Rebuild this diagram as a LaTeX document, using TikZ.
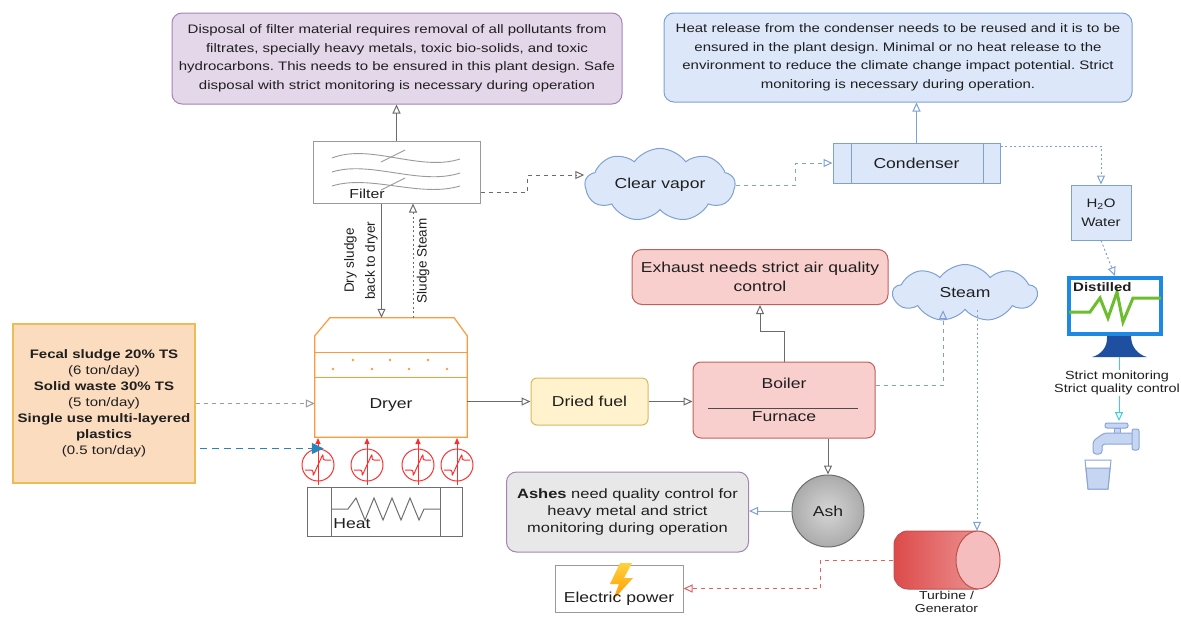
\documentclass[tikz,border=0pt]{standalone}
\usepackage{fontspec}
\setmainfont{Liberation Sans}[FakeStretch=1.22]
\newfontfamily\plainsans{Liberation Sans}
\usetikzlibrary{arrows.meta,positioning,calc,shapes.geometric,shapes.symbols}
\definecolor{Ink}{HTML}{1F1F1F}
\definecolor{Slate}{HTML}{6B6B6B}
\definecolor{FrameGrey}{HTML}{9A9A9A}
\definecolor{FrameDark}{HTML}{6E6E6E}
\definecolor{PurpleFill}{HTML}{E4D7EA}
\definecolor{PurpleEdge}{HTML}{A384B5}
\definecolor{BlueFill}{HTML}{DCE8FA}
\definecolor{BlueEdge}{HTML}{7EA0D4}
\definecolor{RedFill}{HTML}{F8CFCD}
\definecolor{RedEdge}{HTML}{C0605C}
\definecolor{YellowFill}{HTML}{FFF2CC}
\definecolor{YellowEdge}{HTML}{D9B85C}
\definecolor{InputFill}{HTML}{FCDCBE}
\definecolor{InputEdge}{HTML}{ECBD55}
\definecolor{DryerOrange}{HTML}{FF9A3C}
\definecolor{HeatRed}{HTML}{FF2E2E}
\definecolor{FeedBlue}{HTML}{2786B9}
\definecolor{AshLight}{HTML}{D6D6D6}
\definecolor{AshGrey}{HTML}{ABABAB}
\definecolor{AshNote}{HTML}{E8E8E8}
\definecolor{TurbineDark}{HTML}{DD4B4B}
\definecolor{TurbineBody}{HTML}{F0A0A0}
\definecolor{TurbineEnd}{HTML}{F5BDBD}
\definecolor{TurbineEdge}{HTML}{C0504D}
\definecolor{PowerRed}{HTML}{E06060}
\definecolor{MonitorBlue}{HTML}{1E88E5}
\definecolor{StandBlue}{HTML}{1F4FA0}
\definecolor{ZigGreen}{HTML}{6DBE2E}
\definecolor{CyanLine}{HTML}{3CCFD8}
\definecolor{TapFill}{HTML}{C6D5F2}
\definecolor{TapEdge}{HTML}{8CA5D8}
\definecolor{BoltTop}{HTML}{FFD23F}
\definecolor{BoltBottom}{HTML}{FF9800}
\newcommand\notefont{\fontsize{12.3}{18.5}\selectfont}
\newcommand\feedfont{\fontsize{12.3}{16}\selectfont}
\newcommand\unitfont{\fontsize{14.4}{19}\selectfont}
\newcommand\tagfont{\fontsize{12.3}{14}\selectfont}
\newcommand\sidefont{\plainsans\fontsize{13.5}{21}\selectfont}
\frenchspacing
\tikzset{
  notebox/.style={rounded corners=10pt, line width=1pt, align=center, font=\notefont, text=Ink, inner sep=4pt},
  unitbox/.style={line width=1pt, align=center, font=\unitfont, text=Ink, inner sep=3pt},
  vapour/.style={cloud, cloud puffs=9, cloud puff arc=110, aspect=2.4, draw=BlueEdge, fill=BlueFill, line width=1pt, font=\unitfont, text=Ink, inner sep=0pt},
  arrow/.style={-{Triangle[open,length=9pt,width=8pt]}, line width=1pt, draw=Slate},
  dashedarrow/.style={arrow, dash pattern=on 4pt off 4pt},
  dottedarrow/.style={arrow, dash pattern=on 2pt off 2.5pt},
  heatline/.style={HeatRed, line width=1pt},
  tapicon/.style={fill=TapFill, draw=TapEdge, line width=1pt}
}
\begin{document}
\begin{tikzpicture}[x=1pt,y=-1pt]
  \useasboundingbox (0,0) rectangle (1181,616);

  % requirement notes
  \node[notebox, draw=PurpleEdge, fill=PurpleFill, minimum width=450pt, minimum height=91pt] (disposal) at (397,58.5) {Disposal of filter material requires removal of all pollutants from\\filtrates, specially heavy metals, toxic bio-solids, and toxic\\hydrocarbons. This needs to be ensured in this plant design. Safe\\disposal with strict monitoring is necessary during operation};
  \node[notebox, draw=BlueEdge, fill=BlueFill, minimum width=468pt, minimum height=89pt] (heatnote) at (898,57.5) {Heat release from the condenser needs to be reused and it is to be\\ensured in the plant design. Minimal or no heat release to the\\environment to reduce the climate change impact potential. Strict\\monitoring is necessary during operation.};
  \node[notebox, font=\unitfont, draw=RedEdge, fill=RedFill, minimum width=256pt, minimum height=55pt] (exhaust) at (760,277) {Exhaust needs strict air quality\\control};
  \node[notebox, font=\fontsize{13.5}{17}\selectfont, draw=PurpleEdge, fill=AshNote, minimum width=242pt, minimum height=80pt] (ashnote) at (627.5,512) {\textbf{Ashes} need quality control for\\heavy metal and strict\\monitoring during operation};

  % filter
  \node[unitbox, draw=FrameGrey, fill=white, minimum width=167pt, minimum height=62pt] (filter) at (396.5,172) {};
  \draw[FrameGrey, line width=0.9pt] (332,158) .. controls (370,143) and (420,172) .. (460,159);
  \draw[FrameGrey, line width=0.9pt] (332,172) .. controls (370,160) and (420,186) .. (460,173);
  \draw[FrameGrey, line width=0.9pt] (332,186) .. controls (370,174) and (420,198) .. (460,186);
  \draw[FrameGrey, line width=0.9pt] (381,162) -- (405,150) (381,190) -- (405,178);
  \node[font=\fontsize{13}{15}\selectfont, text=Ink] (filtertext) at (367,194) {Filter};

  % vapour line
  \node[vapour, minimum width=150pt, minimum height=64pt] (vapor) at (660,185) {Clear vapor};
  \node[unitbox, draw=BlueEdge, fill=BlueFill, minimum width=167pt, minimum height=40pt] (condenser) at (916.5,163) {Condenser};
  \draw[BlueEdge, line width=1pt] (851,143) -- (851,183) (983,143) -- (983,183);
  \node[unitbox, font=\tagfont, draw=BlueEdge, fill=BlueFill, minimum width=60pt, minimum height=55pt] (water) at (1101,212.5) {H\textsubscript{2}O\\[5pt]Water};

  % distilled water display
  \node[draw=MonitorBlue, line width=4pt, fill=white, minimum width=92pt, minimum height=56pt, inner sep=0pt] (monitor) at (1115,306) {};
  \fill[StandBlue] (1107,336) .. controls (1108,348) and (1100,355) .. (1092,357) -- (1147,357) .. controls (1139,355) and (1131,348) .. (1131,336) -- cycle;
  \draw[ZigGreen, line width=3pt] (1069,312) -- (1090,312) -- (1100,298) -- (1108,318) -- (1117,292) -- (1123,322) -- (1133,298) -- (1161,298);
  \node[font=\tagfont\bfseries, text=Ink, anchor=west, inner sep=0pt] (distilled) at (1073,287) {Distilled};
  \coordinate (standbase) at (1119,357);
  \coordinate (tap) at (1119,421);
  \draw[arrow, draw=CyanLine] (standbase) -- (tap);
  \node[font=\fontsize{11.8}{13.5}\selectfont, text=Ink, fill=white, align=center, inner sep=1pt] (strict) at (1117,383) {Strict monitoring\\Strict quality control};

  % tap and glass
  \filldraw[tapicon, rounded corners=2pt] (1105,423) rectangle (1128,428);
  \filldraw[tapicon] (1114,428) rectangle (1120,434);
  \filldraw[tapicon, rounded corners=3pt] (1134,433) -- (1104,433) -- (1093,441) -- (1093,454) -- (1102,454) -- (1102,444) -- (1134,444) -- cycle;
  \filldraw[tapicon, rounded corners=2pt] (1132,429) rectangle (1139,450);
  \filldraw[tapicon, fill=white] (1085,460) -- (1111,460) -- (1108,489) -- (1088,489) -- cycle;
  \filldraw[tapicon] (1086,468) -- (1110,468) -- (1108,489) -- (1088,489) -- cycle;

  % feed
  \node[unitbox, font=\feedfont, draw=InputEdge, line width=1.5pt, fill=InputFill, minimum width=182pt, minimum height=159pt] (input) at (104,403.5) {\textbf{Fecal sludge 20\% TS}\\(6 ton/day)\\\textbf{Solid waste 30\% TS}\\(5 ton/day)\\\textbf{Single use multi-layered}\\\textbf{plastics}\\(0.5 ton/day)};

  % dryer
  \node[minimum width=152pt, minimum height=119pt, inner sep=0pt] (dryer) at (391,377.5) {};
  \draw[DryerOrange, line width=1.2pt, fill=white] (dryer.south west) -- ([yshift=-18pt]dryer.north west) -- ([xshift=15pt]dryer.north west) -- ([xshift=-13pt]dryer.north east) -- ([yshift=-18pt]dryer.north east) -- (dryer.south east) -- cycle;
  \draw[DryerOrange, line width=1pt] (315,352) -- (467,352) (315,377) -- (467,377);
  \foreach \dx/\dy in {353/360,390/360,428/360,333/369,372/369,409/369,447/369}
    \fill[DryerOrange] (\dx,\dy) circle (1.3pt);
  \node[font=\unitfont, text=Ink] (dryertext) at (391,405) {Dryer};

  % heater
  \node[draw=FrameDark, line width=1pt, minimum width=155pt, minimum height=49pt] (heater) at (385,511.5) {};
  \draw[FrameDark, line width=1pt] (331,487) -- (331,536) (440,487) -- (440,536);
  \draw[FrameDark, line width=1pt] (331,509) -- (348,509) -- (356,498) -- (365,520) -- (374,498) -- (383,520) -- (392,498) -- (401,520) -- (410,498) -- (419,520) -- (424,509) -- (440,509);
  \node[font=\unitfont, text=Ink, inner sep=0pt] (heattext) at (352,524) {Heat};
  \foreach \hx in {318,367,418,457}{
    \draw[heatline] (\hx,465) circle (16pt);
    \draw[heatline, rounded corners=2pt] (\hx-13,470) -- (\hx-5,470) -- (\hx-5,476) -- (\hx+5,454) -- (\hx+5,460) -- (\hx+13,460);
    \draw[heatline, -{Triangle[length=6pt,width=5pt]}] (\hx,485) -- (\hx,438);
  }

  % fuel line
  \node[notebox, font=\unitfont, rounded corners=6pt, draw=YellowEdge, fill=YellowFill, minimum width=117pt, minimum height=47pt] (fuel) at (589.5,401.5) {Dried fuel};
  \node[notebox, font=\unitfont, rounded corners=8pt, draw=RedEdge, fill=RedFill, minimum width=182pt, minimum height=76pt] (boiler) at (784,400) {Boiler\\[14pt]Furnace};
  \draw[Ink!80, line width=1pt] (708,408) -- (858,408);
  \node[vapour, minimum width=144pt, minimum height=57pt] (steam) at (965,293) {Steam};
  \node[circle, draw=FrameDark, line width=1pt, inner color=AshLight, outer color=AshGrey, minimum size=72pt, font=\unitfont, text=Ink] (ash) at (828,511) {Ash};

  % turbine and generator
  \node[minimum width=107pt, minimum height=58pt, inner sep=0pt] (turbine) at (946.5,560) {};
  \shade[left color=TurbineDark, right color=TurbineBody] (978,531) [rounded corners=14pt] -- (894,531) -- (894,589) [sharp corners] -- (978,589) arc[start angle=-90, end angle=90, x radius=22pt, y radius=29pt] -- cycle;
  \draw[TurbineEdge, line width=1pt] (978,531) [rounded corners=14pt] -- (894,531) -- (894,589) [sharp corners] -- (978,589);
  \draw[TurbineEdge, line width=1pt, fill=TurbineEnd] (978,560) ellipse [x radius=22pt, y radius=29pt];
  \node[font=\fontsize{11.5}{12.5}\selectfont, text=Ink, align=center, inner sep=1pt, below=1pt of turbine] (turbinetext) {Turbine /\\Generator};

  \node[draw=FrameGrey, line width=1pt, fill=white, minimum width=128pt, minimum height=47pt] (elec) at (619,588.5) {};
  \shade[top color=BoltTop, bottom color=BoltBottom] (620,563) -- (632,563) -- (624,578) -- (633,578) -- (613,600) -- (619,584) -- (610,584) -- cycle;
  \node[font=\unitfont, text=Ink] (electext) at (619,599) {Electric power};

  % connectors
  \draw[arrow] (filter.north) -- (filter.north |- disposal.south);
  \draw[dashedarrow] ([yshift=-20pt]filter.east) -- ++(47,0) |- ([yshift=10pt]vapor.west);
  \draw[dashedarrow, draw=BlueEdge] (vapor.east) -- ++(60,0) |- (condenser.west);
  \draw[arrow, draw=BlueEdge] (condenser.north) -- (condenser.north |- heatnote.south);
  \draw[dottedarrow, draw=BlueEdge] ([yshift=17pt]condenser.east) -| (water.north);
  \draw[dottedarrow, draw=BlueEdge] (water.south) -- (monitor.north);
  \draw[dashedarrow, draw=FrameGrey] (input.east) -- (input.east -| dryer.west);
  \draw[FeedBlue, line width=1.5pt, dash pattern=on 7pt off 5pt, -{Triangle[length=12pt,width=11pt]}] ([xshift=4pt,yshift=-45pt]input.east) -- ++(124,0);
  \draw[arrow] ([xshift=-15pt]filter.south) -- ([xshift=-15pt]filter.south |- dryer.north)
    node[midway, rotate=90, anchor=south, font=\sidefont, text=Ink, align=center] {Dry sludge\\back to dryer};
  \draw[dottedarrow] ([xshift=22pt]dryer.north) -- ([xshift=22pt]dryer.north |- filter.south)
    node[midway, rotate=90, anchor=north, font=\sidefont, text=Ink] {Sludge Steam};
  \draw[arrow] (fuel.west -| dryer.east) -- (fuel.west);
  \draw[arrow] (fuel.east) -- (fuel.east -| boiler.west);
  \draw[arrow] (boiler.north) -- ++(0,-30) -| (exhaust.south);
  \draw[dashedarrow, draw=BlueEdge] ([yshift=15pt]boiler.east) -| ([xshift=-22pt]steam.south);
  \draw[dottedarrow, draw=BlueEdge] ([xshift=12pt]steam.south) -- ([xshift=12pt]steam.south |- turbine.north);
  \draw[arrow] (boiler.south -| ash.north) -- (ash.north);
  \draw[arrow, draw=BlueEdge] (ash.west) -- (ash.west -| ashnote.east);
  \draw[dashedarrow, draw=PowerRed] (turbine.west) -- ++(-72,0) |- (elec.east);
\end{tikzpicture}
\end{document}
